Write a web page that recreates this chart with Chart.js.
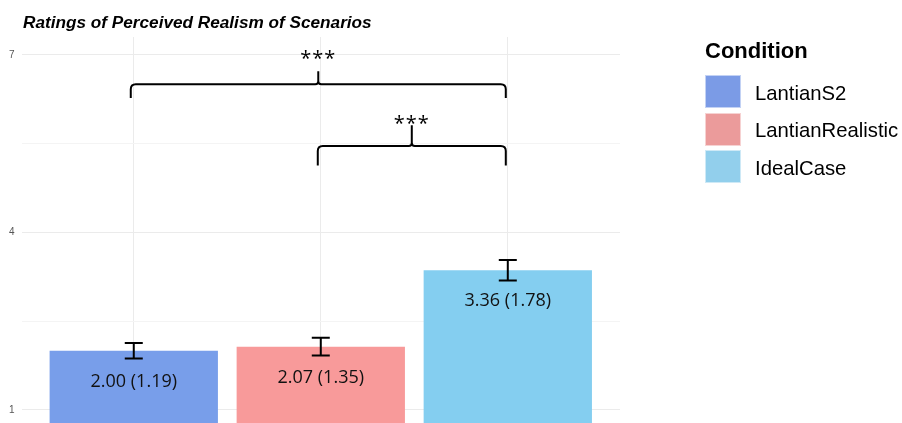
<!DOCTYPE html>
<html>
<head>
<meta charset="utf-8">
<script src="https://cdn.jsdelivr.net/npm/chart.js@4.4.1/dist/chart.umd.min.js"></script>
<style>
  html, body { margin: 0; padding: 0; background: #ffffff; }
  #wrap { position: relative; width: 902px; height: 423px; overflow: hidden; }
  #chart { position: absolute; left: 0; top: 0; }
  #title {
    position: absolute; left: 23px; top: 12px;
    font: italic bold 17.2px "Liberation Sans", Arial, sans-serif;
    color: #000; white-space: nowrap;
  }
  #legend {
    position: absolute; left: 705px; top: 38px;
    font-family: "Liberation Sans", Arial, sans-serif; color: #000;
  }
  #legend .head { font-weight: bold; font-size: 22px; line-height: 26px; margin-bottom: 9px; }
  #legend .item { display: flex; align-items: center; height: 37.5px; }
  #legend .swatch {
    width: 34px; height: 31px; margin-right: 14px; box-sizing: content-box;
    border: 1px solid rgba(255,255,255,0.55);
  }
  #legend .name { font-size: 20.3px; white-space: nowrap; padding-top: 3px; }
</style>
</head>
<body>
<div id="wrap">
  <canvas id="chart" width="902" height="436"></canvas>
  <div id="title">Ratings of Perceived Realism of Scenarios</div>
  <div id="legend"></div>
</div>
<script>
// Ratings per condition: mean, standard deviation, standard error
const conditions = ['LantianS2', 'LantianRealistic', 'IdealCase'];
const means      = [2.00, 2.07, 3.36];
const sds        = [1.19, 1.35, 1.78];
const stdErrors  = [0.13, 0.15, 0.175];

// Axis ticks
const yMajorTicks = [1, 4, 7];
const yMinorTicks = [2.5, 5.5];

// Significance comparisons between conditions (indices into conditions)
const compFrom   = [0, 1];
const compTo     = [2, 2];
const compLabels = ['***', '***'];

// Brace geometry for each comparison, in rating units
const braceLegY  = [6.27, 5.13];
const braceBarY  = [6.50, 5.46];
const braceTipY  = [6.72, 5.81];
const braceTextY = [7.03, 5.93];

const barColors    = ['#789EEA', '#F89A9A', '#84CEF0'];
const legendColors = ['#7B9BE6', '#EB9B9B', '#92CFEC'];

// Legend
const legendEl = document.getElementById('legend');
legendEl.innerHTML = '<div class="head">Condition</div>' + conditions.map((c, i) =>
  '<div class="item"><div class="swatch" style="background:' + legendColors[i] + '"></div>' +
  '<div class="name">' + c + '</div></div>').join('');

// Error bars, value labels and significance braces
const annotations = {
  id: 'annotations',
  afterDatasetsDraw(chart) {
    const { ctx, scales: { x, y } } = chart;
    ctx.save();

    // error bars
    ctx.strokeStyle = '#000';
    ctx.lineWidth = 2;
    const capHalf = 9;
    means.forEach((m, i) => {
      const px = x.getPixelForValue(i);
      const top = y.getPixelForValue(m + stdErrors[i]);
      const bot = y.getPixelForValue(m - stdErrors[i]);
      ctx.beginPath();
      ctx.moveTo(px, top); ctx.lineTo(px, bot);
      ctx.moveTo(px - capHalf, top); ctx.lineTo(px + capHalf, top);
      ctx.moveTo(px - capHalf, bot); ctx.lineTo(px + capHalf, bot);
      ctx.stroke();
    });

    // value labels inside bars
    ctx.fillStyle = '#111';
    ctx.font = '18px "Open Sans", "Noto Sans", sans-serif';
    ctx.textAlign = 'center';
    ctx.textBaseline = 'middle';
    means.forEach((m, i) => {
      const px = x.getPixelForValue(i);
      const py = y.getPixelForValue(m) + 31;
      ctx.fillText(m.toFixed(2) + ' (' + sds[i].toFixed(2) + ')', px, py);
    });

    // significance braces
    ctx.lineWidth = 2;
    ctx.lineJoin = 'round';
    compFrom.forEach((f, k) => {
      const x1 = x.getPixelForValue(f) - 3;
      const x2 = x.getPixelForValue(compTo[k]) - 2;
      const xm = (x1 + x2) / 2;
      const yLeg = y.getPixelForValue(braceLegY[k]);
      const yBar = y.getPixelForValue(braceBarY[k]);
      const yTip = y.getPixelForValue(braceTipY[k]);
      const r = Math.min(5, (yLeg - yBar) * 0.5);
      const rt = 3;
      ctx.beginPath();
      ctx.moveTo(x1, yLeg);
      ctx.lineTo(x1, yBar + r);
      ctx.quadraticCurveTo(x1, yBar, x1 + r, yBar);
      ctx.lineTo(xm - rt, yBar);
      ctx.quadraticCurveTo(xm, yBar, xm, yBar - rt);
      ctx.lineTo(xm, yTip);
      ctx.moveTo(xm, yBar - rt);
      ctx.quadraticCurveTo(xm, yBar, xm + rt, yBar);
      ctx.lineTo(x2 - r, yBar);
      ctx.quadraticCurveTo(x2, yBar, x2, yBar + r);
      ctx.lineTo(x2, yLeg);
      ctx.stroke();

      const fs = 20;
      ctx.font = fs + 'px "Open Sans", sans-serif';
      ctx.fillStyle = '#000';
      ctx.textBaseline = 'alphabetic';
      ctx.letterSpacing = '1px';
      const ty = y.getPixelForValue(braceTextY[k]) + 0.58 * fs;
      ctx.fillText(compLabels[k], xm, ty);
      ctx.letterSpacing = '0px';
    });
    ctx.restore();
  }
};

new Chart(document.getElementById('chart'), {
  type: 'bar',
  data: {
    datasets: [{
      label: 'Rating',
      data: means.map((m, i) => ({ x: i, y: m })),
      backgroundColor: barColors,
      borderWidth: 0,
      barPercentage: 0.9,
      categoryPercentage: 1.0
    }]
  },
  options: {
    responsive: false,
    animation: false,
    layout: { padding: { left: 2, right: 282, top: 37, bottom: 0 } },
    plugins: {
      legend: { display: false },
      title: { display: false },
      tooltip: { enabled: false }
    },
    scales: {
      x: {
        type: 'linear',
        offset: false,
        min: -0.6,
        max: 2.6,
        afterBuildTicks: (s) => { s.ticks = conditions.map((_, i) => ({ value: i })); },
        ticks: { display: false },
        border: { display: false },
        grid: { color: '#ebebeb', lineWidth: 1, drawTicks: false, offset: false }
      },
      y: {
        min: 0.78,
        max: 7.3,
        afterBuildTicks: (s) => {
          s.ticks = yMajorTicks.concat(yMinorTicks).sort((a, b) => a - b).map(v => ({ value: v }));
        },
        ticks: {
          padding: 7,
          color: '#555555',
          font: { family: '"Liberation Sans", Arial, sans-serif', size: 10 },
          callback: (v) => yMajorTicks.includes(v) ? String(v) : ''
        },
        border: { display: false },
        grid: {
          drawTicks: false,
          color: (c) => yMajorTicks.includes(c.tick && c.tick.value) ? '#ebebeb' : '#f4f4f4',
          lineWidth: 1
        }
      }
    }
  },
  plugins: [annotations]
});
</script>
</body>
</html>
